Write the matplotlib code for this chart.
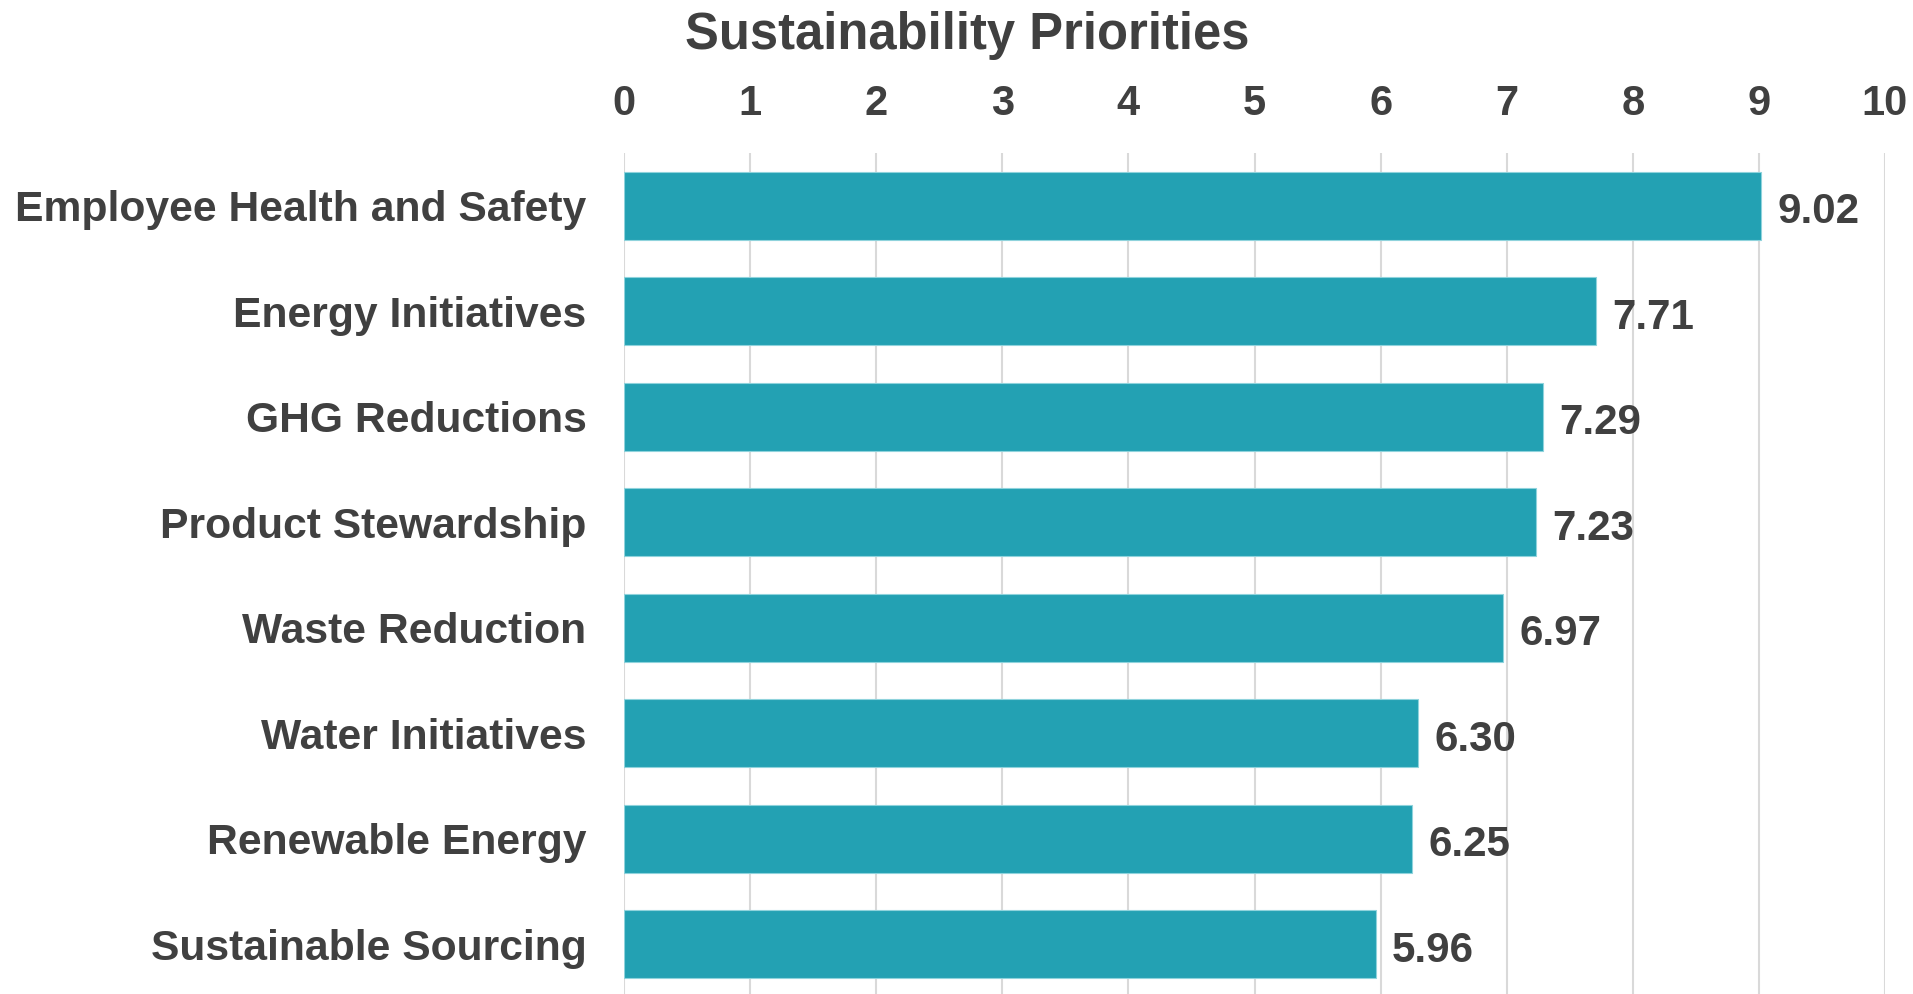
import matplotlib
matplotlib.use('Agg')
import matplotlib.pyplot as plt

# Chart data
categories = ['Employee Health and Safety', 'Energy Initiatives', 'GHG Reductions',
              'Product Stewardship', 'Waste Reduction', 'Water Initiatives',
              'Renewable Energy', 'Sustainable Sourcing']
scores = [9.02, 7.71, 7.29, 7.23, 6.97, 6.30, 6.25, 5.96]
xticks = list(range(0, 11))

bar_color = '#23A1B3'
text_color = '#404040'

plt.rcParams['font.family'] = ['Liberation Sans', 'DejaVu Sans']
plt.rcParams['font.weight'] = 'bold'

fig = plt.figure(figsize=(19.13, 9.94), dpi=100)
ax = fig.add_axes([624/1913, -0.003, (1885-624)/1913, 0.849])

ypos = list(range(len(categories)))
ax.barh(ypos, scores, height=0.645, color=bar_color, edgecolor='#8fd3dc', linewidth=0.8, zorder=3)

for y, v in zip(ypos, scores):
    ax.text(v + 0.13, y + 0.06, f'{v:.2f}', va='center', ha='left',
            fontsize=30.3, fontweight='bold', color=text_color)

ax.set_xlim(0, 10)
ax.set_ylim(len(categories) - 0.5, -0.5)
ax.set_xticks(xticks)
ax.set_yticks(ypos)
ax.set_yticklabels(categories)
ax.xaxis.tick_top()
ax.tick_params(axis='x', length=0, pad=21, labelsize=30, colors=text_color)
ax.tick_params(axis='y', length=0, pad=27, labelsize=30.7, colors=text_color)
for lbl in ax.get_xticklabels() + ax.get_yticklabels():
    lbl.set_fontweight('bold')

ax.grid(axis='x', color='#d9d9d9', linewidth=1.5, zorder=0)
for s in ax.spines.values():
    s.set_visible(False)

fig.text(967/1913, 1 - 35/994, 'Sustainability Priorities', ha='center', va='center',
         fontsize=36.5, fontweight='bold', color=text_color)

fig.savefig('out.png', dpi=100)
